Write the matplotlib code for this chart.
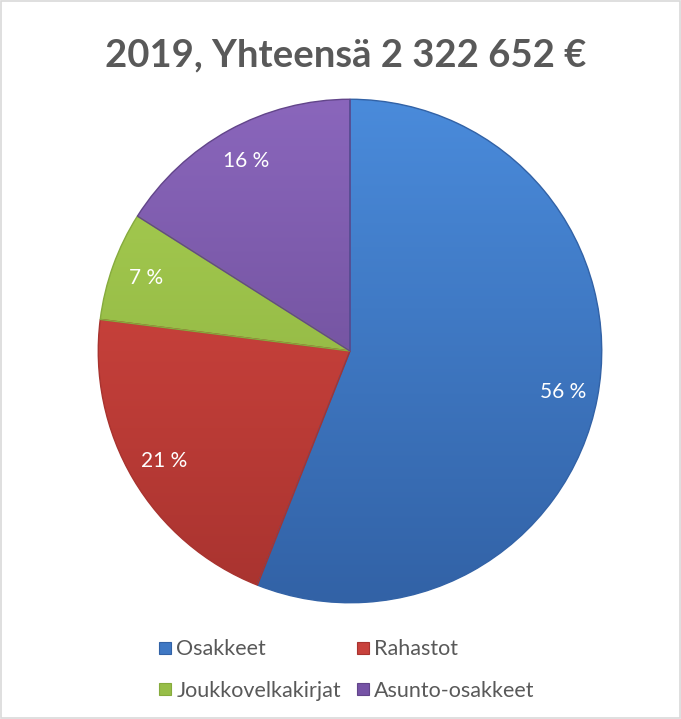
import numpy as np
import matplotlib
matplotlib.use('Agg')
import matplotlib.pyplot as plt
from matplotlib.colors import LinearSegmentedColormap
from matplotlib.patches import Rectangle
from matplotlib.lines import Line2D

# data
categories = ['Osakkeet', 'Rahastot', 'Joukkovelkakirjat', 'Asunto-osakkeet']
shares = [56, 21, 7, 16]
title = '2019, Yhteensä 2 322 652 €'

# top / bottom gradient colours per slice
top_colors = ['#4A8BDB', '#DC4A43', '#A9CF52', '#8A66BC']
bottom_colors = ['#3262A6', '#A8332F', '#86AB3D', '#62458A']
base_colors = ['#3F78C4', '#C8413C', '#97BE48', '#7653A6']

plt.rcParams['font.family'] = ['Lato', 'DejaVu Sans']

fig = plt.figure(figsize=(6.81, 7.19), dpi=100)
fig.patch.set_facecolor('white')

# light grey frame round the chart area
fig.patches.append(Rectangle((0.002, 0.002), 0.996, 0.996, transform=fig.transFigure,
                             fill=False, edgecolor='#D9D9D9', lw=1.2))

cx, cy, r = 350, 351, 253
ax = fig.add_axes([(cx - r) / 681, 1 - (cy + r) / 719, 2 * r / 681, 2 * r / 719])

wedges, texts, autotexts = ax.pie(shares, colors=base_colors, startangle=90,
                                  counterclock=False, radius=1,
                                  autopct=lambda p: f'{p:.0f} %', pctdistance=0.86,
                                  wedgeprops=dict(edgecolor='none', linewidth=0),
                                  textprops=dict(color='white', fontsize=15))

# gradient fill clipped to each wedge
grad = np.linspace(0, 1, 256).reshape(-1, 1)
for w, c_top, c_bot in zip(wedges, top_colors, bottom_colors):
    cmap = LinearSegmentedColormap.from_list('g', [c_bot, c_top])
    im = ax.imshow(grad, cmap=cmap, extent=(-1, 1, -1, 1), origin='lower',
                   aspect='auto', zorder=w.get_zorder() + 0.1)
    im.set_clip_path(w)
    # dark rim on each wedge
    w.set_edgecolor(c_bot)
    w.set_linewidth(1.0)
    w.set_zorder(w.get_zorder() + 0.2)
    w.set_facecolor('none')

for t in autotexts:
    t.set_zorder(5)

ax.set_xlim(-1.005, 1.005)
ax.set_ylim(-1.005, 1.005)
ax.axis('off')

fig.text(346 / 681, 1 - 55 / 719, title, ha='center', va='center',
         fontsize=27.5, fontweight='bold', color='#595959')

handles = [Line2D([], [], marker='s', linestyle='none', markersize=9,
                  markerfacecolor=c, markeredgecolor=b, markeredgewidth=0.8)
           for c, b in zip(base_colors, bottom_colors)]
# legend fills column by column, so order it to read row by row
order = [0, 2, 1, 3]
leg = fig.legend([handles[i] for i in order], [categories[i] for i in order],
                 ncol=2, loc='center',
                 bbox_to_anchor=(346 / 681, 1 - 670 / 719), frameon=False,
                 fontsize=15.5, handlelength=0.7, handletextpad=0.2,
                 columnspacing=0.65, labelspacing=1.0,
                 labelcolor='#595959')

fig.savefig('out.png', dpi=100)
